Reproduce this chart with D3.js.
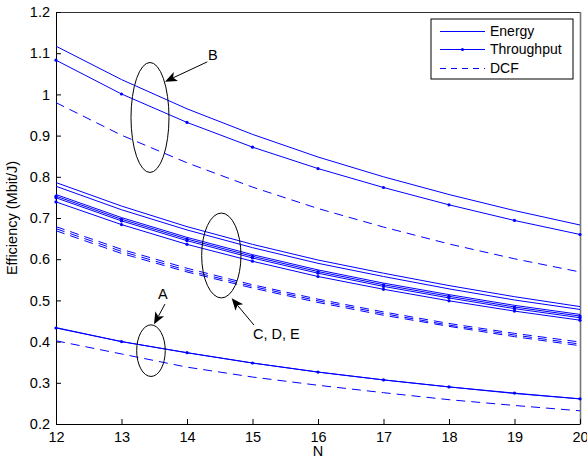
<!DOCTYPE html>
<html><head><meta charset="utf-8">
<script src="https://cdn.jsdelivr.net/npm/d3@7"></script>
<style>
html,body{margin:0;padding:0;background:#fff;}
text{font-family:"Liberation Sans",Arial,Helvetica,sans-serif;}
</style></head>
<body><svg id="chart" width="587" height="463"></svg>
<script>
const N = [12,13,14,15,16,17,18,19,20];
const xTicks = [12,13,14,15,16,17,18,19,20];
const yTicks = [0.2,0.3,0.4,0.5,0.6,0.7,0.8,0.9,1,1.1,1.2];

// Energy curves (solid, no marker)
const energyB = [1.117,1.036,0.965,0.903,0.848,0.800,0.757,0.718,0.683];
const energyC = [0.786,0.729,0.679,0.636,0.598,0.566,0.536,0.509,0.485];
const energyD = [0.777,0.720,0.671,0.628,0.590,0.558,0.528,0.501,0.478];
const energyE = [0.757,0.701,0.653,0.611,0.574,0.542,0.514,0.488,0.466];
const energyA = [0.434,0.400,0.373,0.348,0.326,0.307,0.290,0.274,0.261];
// Throughput curves (solid with dot markers)
const thrB = [1.083,1.001,0.932,0.872,0.820,0.774,0.732,0.694,0.660];
const thrC = [0.753,0.697,0.649,0.607,0.570,0.538,0.510,0.484,0.462];
const thrD = [0.749,0.693,0.645,0.603,0.566,0.534,0.506,0.480,0.458];
const thrE = [0.739,0.684,0.636,0.595,0.558,0.527,0.499,0.474,0.452];
const thrA = [0.433,0.400,0.373,0.348,0.326,0.307,0.290,0.275,0.261];
// DCF curves (dashed)
const dcfB = [0.980,0.901,0.834,0.775,0.723,0.678,0.637,0.601,0.569];
const dcfC = [0.679,0.624,0.578,0.538,0.503,0.472,0.444,0.420,0.399];
const dcfD = [0.674,0.619,0.573,0.534,0.499,0.468,0.440,0.416,0.394];
const dcfE = [0.669,0.614,0.569,0.530,0.495,0.464,0.437,0.412,0.390];
const dcfA = [0.402,0.370,0.338,0.314,0.294,0.276,0.259,0.245,0.232];

const legendLabels = ["Energy","Throughput","DCF"];

// annotations in data coordinates
const ellipses = [
  {cx:13.435, cy:0.944, rx:0.29, ry:0.1335},
  {cx:14.524, cy:0.609, rx:0.30, ry:0.103},
  {cx:13.45, cy:0.378, rx:0.218, ry:0.0626}
];
const arrows = [
  {x1:14.31, y1:1.079, x2:13.664, y2:1.031},
  {x1:15.023, y1:0.440, x2:14.682, y2:0.505},
  {x1:13.664, y1:0.491, x2:13.496, y2:0.442}
];
const labels = [
  {text:"B", x:14.32, y:1.083, anchor:"start"},
  {text:"C, D, E", x:15.008, y:0.406, anchor:"start"},
  {text:"A", x:13.63, y:0.503, anchor:"middle"}
];

const L = 56, R = 580, T = 12, B = 424;
const blue = "#0000ff";
const svg = d3.select("#chart");
svg.append("rect").attr("width",587).attr("height",463).attr("fill","#fff");

const x = d3.scaleLinear().domain([12,20]).range([L,R]);
const y = d3.scaleLinear().domain([0.2,1.2]).range([B,T]);

// box top/right
svg.append("line").attr("x1",L).attr("x2",R).attr("y1",T+0.5).attr("y2",T+0.5).attr("stroke","#333").attr("stroke-width",1);
svg.append("line").attr("x1",R+0.5).attr("x2",R+0.5).attr("y1",T).attr("y2",B).attr("stroke","#777").attr("stroke-width",1.6);

const fs = "14.5px";
const xAxis = svg.append("g").attr("transform",`translate(0,${B})`)
  .call(d3.axisBottom(x).tickValues(xTicks).tickFormat(d3.format("d")).tickSizeInner(-5).tickSizeOuter(0).tickPadding(8));
const yAxis = svg.append("g").attr("transform",`translate(${L},0)`)
  .call(d3.axisLeft(y).tickValues(yTicks).tickFormat(d=>String(+d.toFixed(1))).tickSizeInner(-5).tickSizeOuter(0).tickPadding(6));
[xAxis,yAxis].forEach(g=>{
  g.selectAll("text").attr("font-size",fs).attr("fill","#000").attr("font-family",'"Liberation Sans",Arial,sans-serif');
  g.selectAll("line").attr("stroke","#000");
  g.select(".domain").attr("stroke","#000");
});

svg.append("text").attr("x",x(16)).attr("y",456).attr("text-anchor","middle").attr("font-size",fs).text("N");
svg.append("text").attr("transform",`translate(17,${(T+B)/2}) rotate(-90)`).attr("text-anchor","middle").attr("font-size",fs).text("Efficiency (Mbit/J)");

const line = d3.line().x((d,i)=>x(N[i])).y(d=>y(d));
const plot = svg.append("g");
function draw(arr, dashed, marker){
  plot.append("path").datum(arr).attr("d",line).attr("fill","none").attr("stroke",blue).attr("stroke-width",1)
    .attr("stroke-dasharray", dashed ? "9,6" : null);
  if(marker){
    plot.selectAll(null).data(arr).enter().append("circle")
      .attr("cx",(d,i)=>x(N[i])).attr("cy",d=>y(d)).attr("r",1.6).attr("fill",blue);
  }
}
[dcfB,dcfC,dcfD,dcfE,dcfA].forEach(a=>draw(a,true,false));
[energyB,energyC,energyD,energyE,energyA].forEach(a=>draw(a,false,false));
[thrB,thrC,thrD,thrE,thrA].forEach(a=>draw(a,false,true));

// annotations
const ann = svg.append("g");
ellipses.forEach(e=>{
  ann.append("ellipse").attr("cx",x(e.cx)).attr("cy",y(e.cy))
    .attr("rx",x(e.cx+e.rx)-x(e.cx)).attr("ry",y(e.cy)-y(e.cy+e.ry))
    .attr("fill","none").attr("stroke","#000").attr("stroke-width",1);
});
arrows.forEach(a=>{
  const x1=x(a.x1),y1=y(a.y1),x2=x(a.x2),y2=y(a.y2);
  const ang=Math.atan2(y2-y1,x2-x1);
  const len=12, hw=5, notch=9;
  const ux=Math.cos(ang), uy=Math.sin(ang), px=-uy, py=ux;
  const bx=x2-ux*len, by=y2-uy*len;
  const nx=x2-ux*notch, ny=y2-uy*notch;
  ann.append("line").attr("x1",x1).attr("y1",y1).attr("x2",nx).attr("y2",ny).attr("stroke","#000").attr("stroke-width",1);
  ann.append("path").attr("d",`M${x2},${y2}L${bx+px*hw},${by+py*hw}L${nx},${ny}L${bx-px*hw},${by-py*hw}Z`).attr("fill","#000");
});
labels.forEach(l=>{
  ann.append("text").attr("x",x(l.x)).attr("y",y(l.y)).attr("text-anchor",l.anchor).attr("font-size",fs).text(l.text);
});

// legend
const lg = svg.append("g");
lg.append("rect").attr("x",431).attr("y",19).attr("width",142).attr("height",60).attr("fill","#fff").attr("stroke","#000").attr("stroke-width",1);
const ly = [31.5,49.5,68.5];
legendLabels.forEach((t,i)=>{
  lg.append("line").attr("x1",440).attr("x2",485).attr("y1",ly[i]).attr("y2",ly[i]).attr("stroke",blue).attr("stroke-width",1)
    .attr("stroke-dasharray", i===2 ? "6,5" : null);
  if(i===1) lg.append("circle").attr("cx",462.5).attr("cy",ly[i]).attr("r",1.6).attr("fill",blue);
  lg.append("text").attr("x",490).attr("y",ly[i]).attr("dy","0.35em").attr("font-size","14px").text(t);
});
</script></body></html>
